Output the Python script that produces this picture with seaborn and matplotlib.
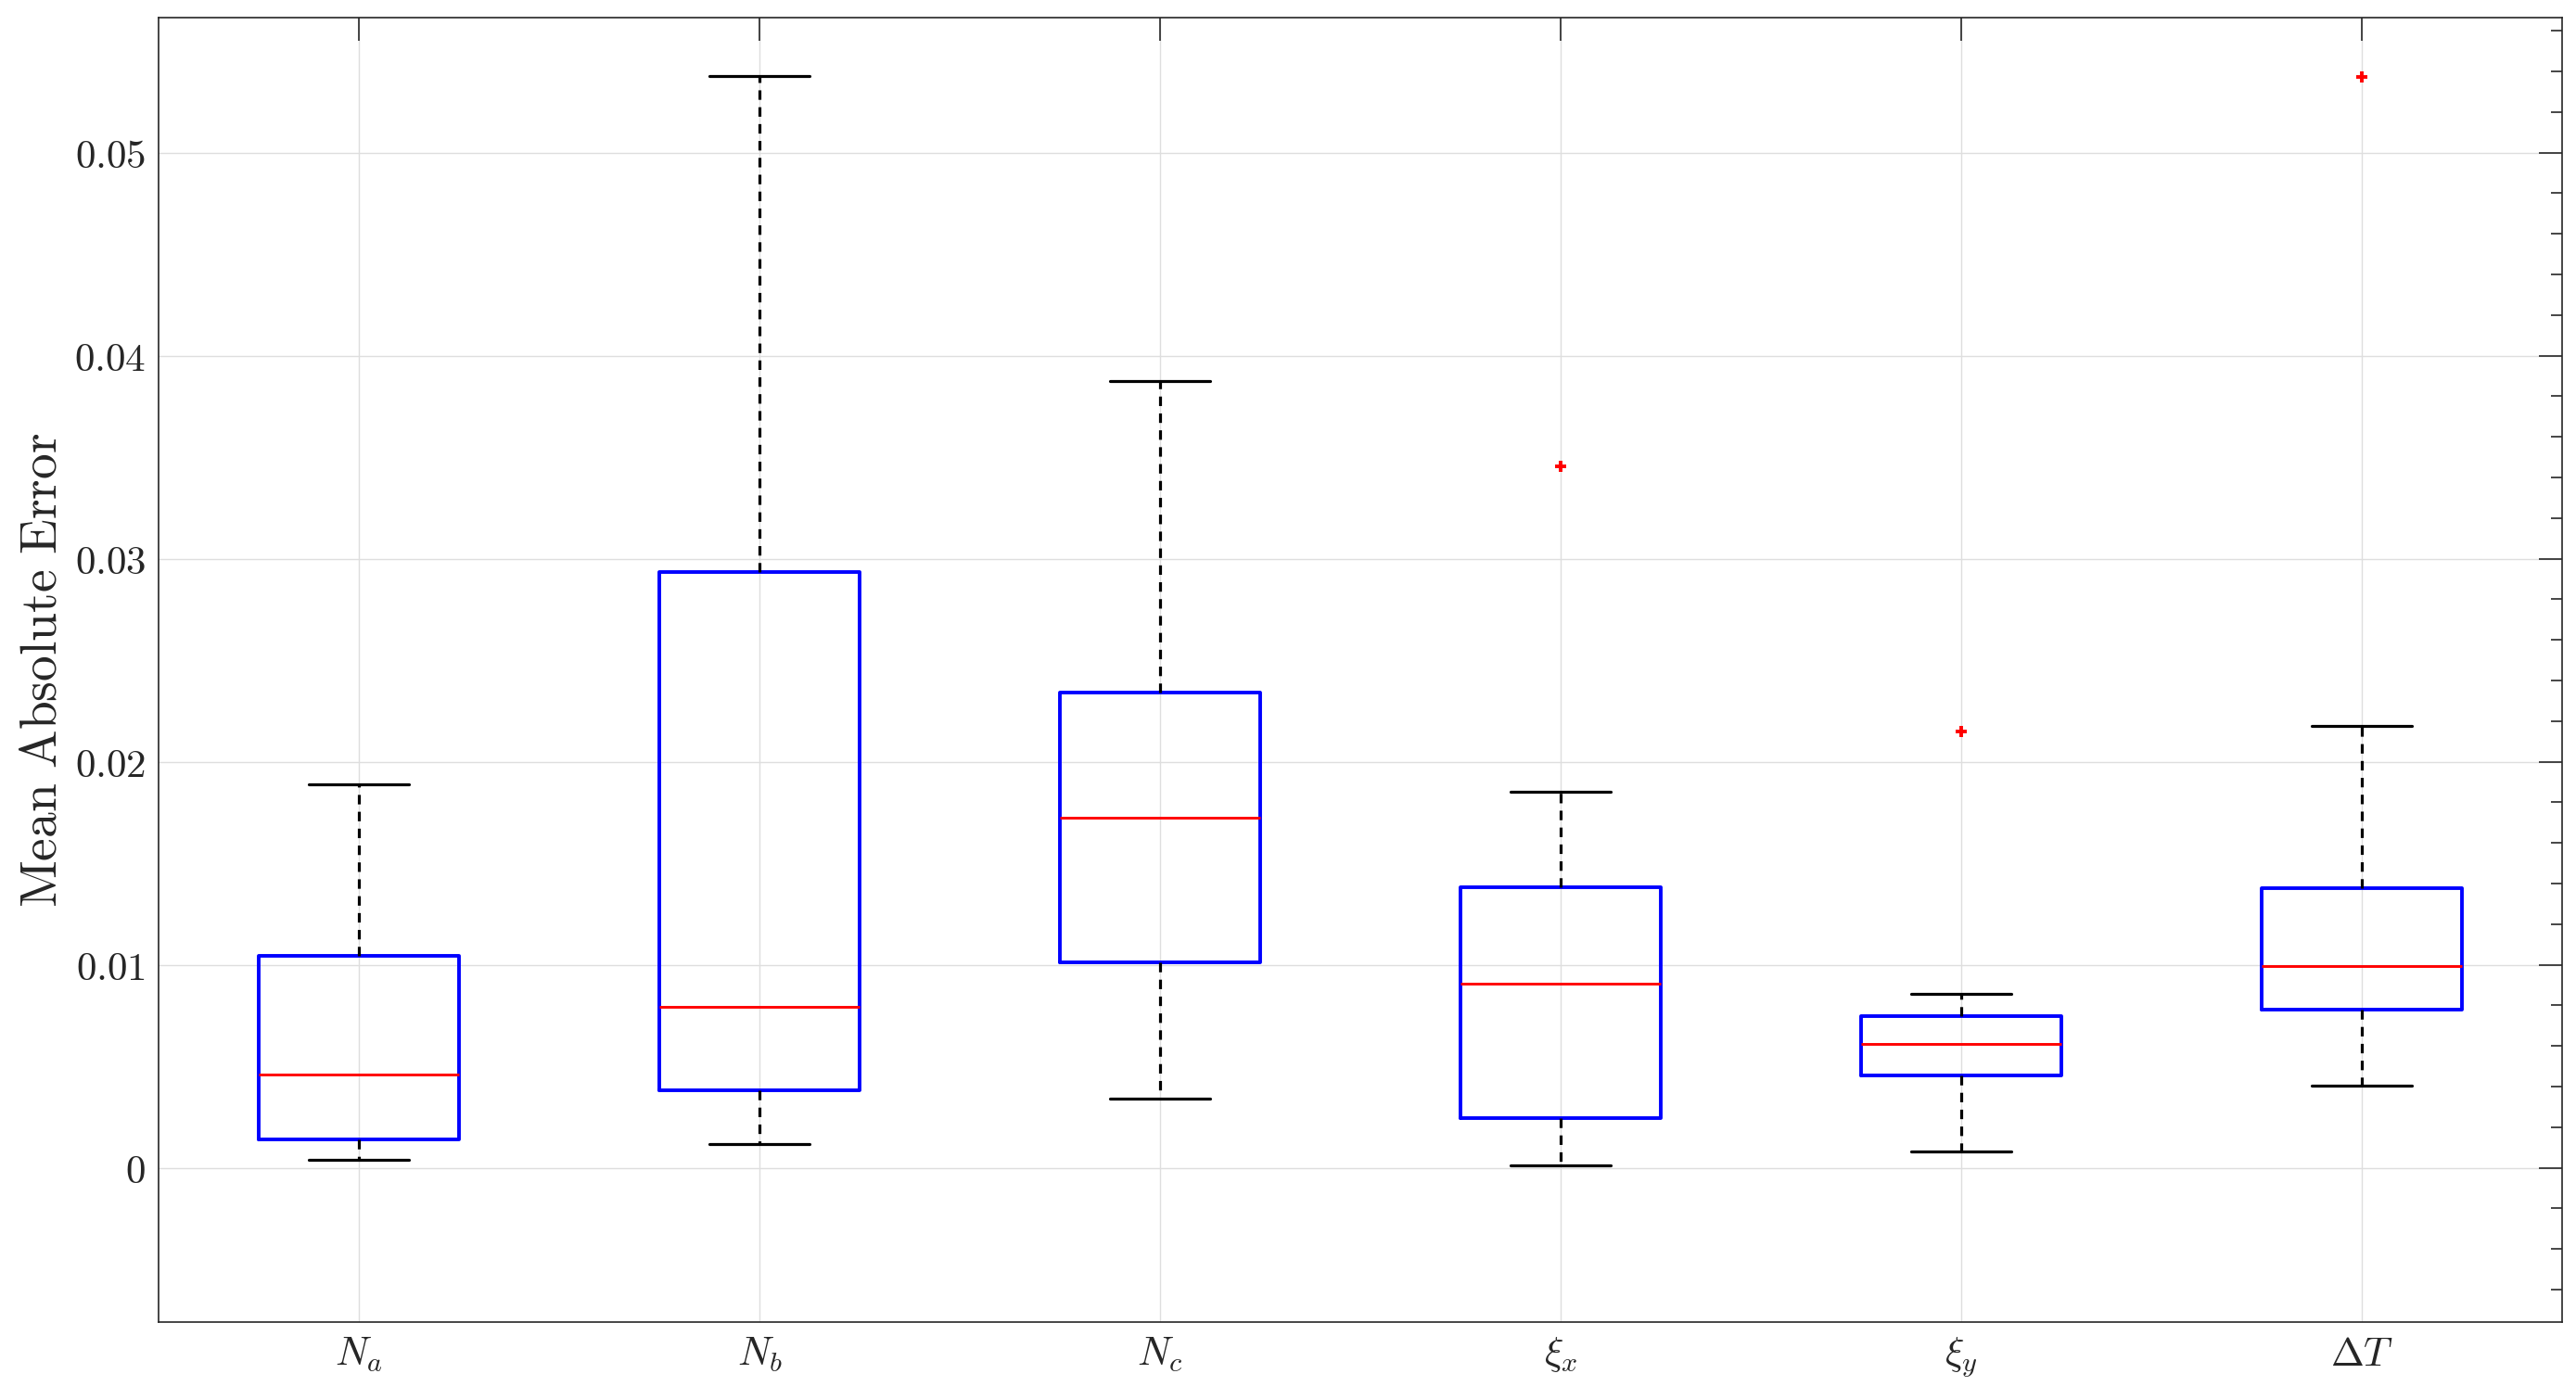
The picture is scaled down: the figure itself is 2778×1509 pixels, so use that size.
import numpy as np
import pandas as pd
import matplotlib
matplotlib.use('Agg')
import matplotlib.pyplot as plt
import seaborn as sns
from matplotlib.ticker import MultipleLocator, FuncFormatter

# parameter names on the x axis
labels = [r'$N_a$', r'$N_b$', r'$N_c$', r'$\xi_x$', r'$\xi_y$', r'$\Delta T$']

# mean absolute error samples per parameter (9 runs each)
err_Na = [0.00041, 0.0009, 0.0014, 0.0030, 0.0046, 0.0075, 0.01045, 0.0145, 0.01888]
err_Nb = [0.00118, 0.0025, 0.00382, 0.0058, 0.00792, 0.0180, 0.02933, 0.0410, 0.05377]
err_Nc = [0.00339, 0.0068, 0.01013, 0.0137, 0.01724, 0.0203, 0.02341, 0.0310, 0.03874]
err_xix = [0.0001, 0.0012, 0.00243, 0.0058, 0.00907, 0.0115, 0.01381, 0.01853, 0.03456]
err_xiy = [0.0008, 0.0030, 0.00453, 0.0053, 0.00612, 0.0068, 0.00747, 0.00858, 0.02149]
err_dT = [0.00405, 0.0060, 0.0078, 0.0088, 0.00993, 0.0118, 0.01378, 0.02175, 0.05374]

all_err = [err_Na, err_Nb, err_Nc, err_xix, err_xiy, err_dT]
df = pd.concat([pd.DataFrame({'param': lab, 'mae': vals}) for lab, vals in zip(labels, all_err)],
               ignore_index=True)

sns.set_style('white')
plt.rcParams['mathtext.fontset'] = 'cm'
plt.rcParams['font.family'] = ['DejaVu Serif']

fig = plt.figure(figsize=(13.89, 7.545), dpi=200)
ax = fig.add_axes([0.0616, 0.055, 0.9330, 0.9324])

sns.boxplot(data=df, x='param', y='mae', order=labels, width=0.5, fill=False, whis=1.5, ax=ax,
            boxprops=dict(color='#0000ff', linewidth=1.4),
            medianprops=dict(color='#ff0000', linewidth=1.05),
            whiskerprops=dict(color='black', linewidth=1.15, linestyle=(0, (3.2, 2.5))),
            capprops=dict(color='black', linewidth=1.15),
            flierprops=dict(marker='+', markeredgecolor='#ff0000', markersize=4, markeredgewidth=1.4))

ax.set_xlim(-0.5, 5.5)
ax.set_ylim(-0.0076, 0.05665)
ax.set_xlabel('')
ax.set_ylabel(r'$\mathrm{Mean\ Absolute\ Error}$', fontsize=20, color='#262626', labelpad=2.5)

ax.yaxis.set_major_locator(MultipleLocator(0.01))
ax.yaxis.set_minor_locator(MultipleLocator(0.002))
ax.yaxis.set_major_formatter(FuncFormatter(lambda v, p: f'${v:g}$'))

ax.grid(True, which='major', color='#dedede', linewidth=0.5)
ax.set_axisbelow(True)

ax.tick_params(which='both', direction='in', top=True, right=True, color='#262626', width=0.6,
               labelcolor='#262626', labelsize=15.5)
ax.tick_params(which='major', length=9, pad=5)
ax.tick_params(which='minor', length=4.5)
ax.tick_params(axis='x', which='minor', bottom=False, top=False)

for s in ax.spines.values():
    s.set_color('#262626')
    s.set_linewidth(0.6)

fig.savefig('out.png', dpi=200)
